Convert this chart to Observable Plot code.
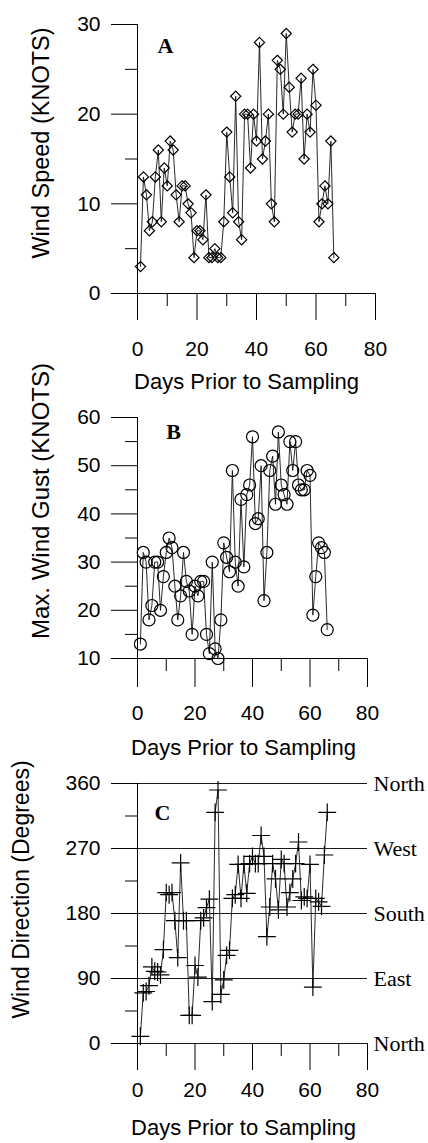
<!DOCTYPE html>
<html><head><meta charset="utf-8">
<script src="https://cdn.jsdelivr.net/npm/d3@7"></script>
<script src="https://cdn.jsdelivr.net/npm/@observablehq/plot@0.6"></script>
<style>
html,body{margin:0;padding:0;background:#fff;}
#chart{width:428px;}
#chart svg{display:block;}
</style></head><body><div id="chart"></div>
<script>
// Panel A: wind speed (knots), one value per day (day 1 .. n)
const windSpeed = [3,13,11,7,8,13,16,8,14,12,17,16,11,8,12,12,10,9,4,7,7,6,11,4,4,5,4,4,8,18,13,9,22,8,6,20,20,14,20,17,28,15,17,20,10,8,26,25,20,29,23,18,20,20,24,15,20,18,25,21,8,10,12,10,17,4];
// Panel B: maximum wind gust (knots)
const maxGust = [13,32,30,18,21,30,30,20,27,32,35,33,25,18,23,32,26,24,15,25,23,26,26,15,11,30,12,10,18,34,31,28,49,30,25,43,29,44,46,56,38,39,50,22,32,49,52,42,57,46,44,42,55,49,55,46,45,45,49,48,19,27,34,33,32,16];
// Panel C: wind direction (degrees)
const windDir = [10,70,72,80,106,100,99,95,130,209,206,209,170,119,250,170,170,39,39,108,92,170,174,188,200,58,320,351,68,88,122,129,201,206,248,201,248,208,249,259,249,249,288,259,148,189,249,228,185,255,249,189,209,228,249,279,198,203,201,248,78,201,196,190,261,320];

const xTicks = [0,20,40,60,80];
const xMinor = [10,30,50,70];
const speedTicks = [0,10,20,30];
const speedMinor = [5,15,25];
const gustTicks = [10,20,30,40,50,60];
const gustMinor = [15,25,35,45,55];
const dirTicks = [0,90,180,270,360];
const dirMinor = [45,135,225,315];
const dirNames = ["North","East","South","West","North"];
const xTitle = "Days Prior to Sampling";

const SANS = "Liberation Sans, Arial, sans-serif";
const SERIF = "Liberation Serif, Times New Roman, serif";

function toRows(values) { return values.map((v, i) => ({day: i + 1, v})); }

function panel(cfg) {
  const rows = toRows(cfg.values);
  const marks = [
    Plot.axisX({ticks: xTicks, tickSize: cfg.xTick, fill: "none", label: null, strokeWidth: 1}),
    Plot.axisX({ticks: xMinor, tickSize: 13, fill: "none", label: null, strokeWidth: 1}),
    Plot.axisY({ticks: cfg.yTicks, tickSize: 26, fill: "none", label: null, strokeWidth: 1}),
    Plot.axisY({ticks: cfg.yMinor, tickSize: 12, fill: "none", label: null, strokeWidth: 1}),
    Plot.text(xTicks, {x: d => d, frameAnchor: "bottom", dy: cfg.xLabelOff, lineAnchor: "middle", textAnchor: "middle", fontSize: 21, fontFamily: SANS}),
    Plot.text([xTitle], {frameAnchor: "bottom", dx: cfg.xTitleDx, dy: cfg.xTitleOff, lineAnchor: "middle", textAnchor: "middle", fontSize: 22, fontFamily: SANS}),
    Plot.text(cfg.yTicks, {y: d => d, frameAnchor: "left", dx: -37, textAnchor: "end", lineAnchor: "middle", fontSize: 21, fontFamily: SANS}),
    Plot.text([cfg.yLabel], {frameAnchor: "left", rotate: -90, dx: cfg.yLabelDx, dy: cfg.yLabelDy, textAnchor: "middle", lineAnchor: "middle", fontSize: cfg.yLabelSize, fontFamily: SANS}),
    Plot.text([cfg.letter], {frameAnchor: "top-left", dx: cfg.letterDx, dy: cfg.letterDy, textAnchor: "middle", lineAnchor: "middle", fontSize: 22, fontWeight: "bold", fontFamily: SERIF}),
    Plot.ruleX([0], {stroke: "black", strokeWidth: 1})
  ];
  if (cfg.grid) {
    marks.push(Plot.ruleY(cfg.yTicks, {stroke: "black", strokeWidth: 0.9}));
    const lab = cfg.yTicks.map((v, i) => ({v, name: dirNames[i]}));
    marks.push(Plot.text(lab, {y: "v", text: "name", frameAnchor: "right", dx: 6, textAnchor: "start", lineAnchor: "middle", fontSize: 22, fontFamily: SERIF}));
  } else {
    marks.push(Plot.ruleY([cfg.yDomain[0]], {stroke: "black", strokeWidth: 1}));
  }
  marks.push(Plot.line(rows, {x: "day", y: "v", stroke: "#111", strokeWidth: 0.9}));
  marks.push(Plot.dot(rows, {x: "day", y: "v", symbol: cfg.symbol, r: cfg.r, stroke: "black", fill: "none", strokeWidth: 1.2}));
  return Plot.plot({
    width: 428,
    height: cfg.height,
    marginLeft: 137,
    marginRight: cfg.marginRight,
    marginTop: cfg.marginTop,
    marginBottom: cfg.marginBottom,
    style: {fontFamily: SANS, fontSize: "21px", background: "white", color: "black", overflow: "visible"},
    x: {domain: [0, 80]},
    y: {domain: cfg.yDomain},
    marks
  });
}

const chart = document.getElementById("chart");
chart.append(panel({
  values: windSpeed, symbol: "diamond2", r: 4.6,
  yDomain: [0, 30], yTicks: speedTicks, yMinor: speedMinor,
  yLabel: "Wind Speed (KNOTS)", yLabelSize: 23.5, letter: "A",
  height: 395, marginTop: 24, marginBottom: 102, marginRight: 53,
  xTick: 27, xLabelOff: 56, xTitleOff: 88, xTitleDx: -10,
  yLabelDx: -96, yLabelDy: -16, letterDx: 28, letterDy: 21
}));
chart.append(panel({
  values: maxGust, symbol: "circle", r: 6,
  yDomain: [10, 60], yTicks: gustTicks, yMinor: gustMinor,
  yLabel: "Max. Wind Gust (KNOTS)", yLabelSize: 24, letter: "B",
  height: 370, marginTop: 22, marginBottom: 107, marginRight: 61,
  xTick: 29, xLabelOff: 55, xTitleOff: 89, xTitleDx: -9,
  yLabelDx: -96, yLabelDy: -37, letterDx: 36, letterDy: 14
}));
chart.append(panel({
  values: windDir, symbol: "plus", r: 5.8, grid: true,
  yDomain: [0, 360], yTicks: dirTicks, yMinor: dirMinor,
  yLabel: "Wind Direction (Degrees)", yLabelSize: 23, letter: "C",
  height: 378, marginTop: 18, marginBottom: 100, marginRight: 61,
  xTick: 27, xLabelOff: 47, xTitleOff: 84, xTitleDx: -9,
  yLabelDx: -116, yLabelDy: -24, letterDx: 25, letterDy: 29
}));
</script></body></html>
